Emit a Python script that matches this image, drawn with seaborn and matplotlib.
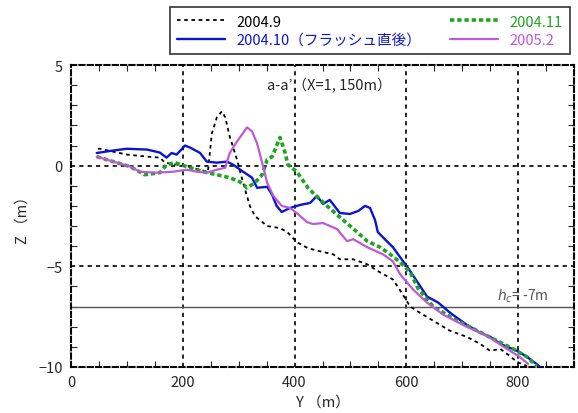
import matplotlib
matplotlib.use("Agg")
import matplotlib.pyplot as plt
import matplotlib.lines as mlines
from matplotlib.ticker import MultipleLocator
import seaborn as sns

# survey profiles along line a-a' (Y in m, Z in m)
y_0409 = [48, 52, 75, 100, 136, 159, 168, 200, 230, 245, 252, 261, 270, 276, 284,
          297, 308, 320, 329, 351, 374, 387, 404, 424, 445, 469, 481, 505, 530, 553,
          576, 589, 607, 624, 648, 678, 708, 732, 750, 768, 785, 798, 816]
z_0409 = [0.84, 0.84, 0.7, 0.55, 0.45, 0.4, 0.15, 0.0, -0.2, -0.3, 1.6, 2.4, 2.7, 2.4, 1.45,
          0.3, -0.85, -2.0, -2.5, -3.0, -3.1, -3.3, -3.8, -4.1, -4.25, -4.4, -4.65, -4.65, -4.9, -5.3,
          -5.65, -6.2, -7.0, -7.3, -7.7, -8.2, -8.5, -8.85, -9.2, -9.1, -9.45, -9.75, -9.95]

y_0410 = [46, 75, 100, 136, 159, 171, 180, 189, 204, 213, 231, 243, 261, 279, 290,
          308, 324, 333, 351, 360, 368, 377, 392, 410, 428, 440, 451, 463, 481, 499,
          514, 526, 535, 544, 549, 565, 576, 589, 601, 612, 637, 657, 678, 708, 732,
          750, 768, 798, 816, 833, 839]
z_0410 = [0.63, 0.75, 0.84, 0.8, 0.65, 0.4, 0.63, 0.55, 1.0, 0.9, 0.63, 0.2, 0.15, 0.2, 0.05,
          -0.3, -0.6, -1.1, -1.05, -1.45, -2.0, -2.3, -2.1, -1.95, -1.85, -1.5, -1.9, -1.7, -2.35, -2.4,
          -2.25, -2.0, -2.1, -2.7, -3.3, -3.75, -4.05, -4.55, -5.0, -5.45, -6.5, -6.8, -7.3, -7.9, -8.3,
          -8.5, -8.85, -9.2, -9.5, -9.85, -10.0]

y_0411 = [46, 106, 132, 159, 171, 186, 207, 236, 261, 284, 302, 315, 329, 342, 351,
          360, 374, 383, 388, 404, 424, 433, 458, 487, 512, 530, 553, 571, 589, 607,
          621, 648, 684, 720, 755, 791, 816, 833]
z_0411 = [0.45, -0.05, -0.45, -0.35, 0.05, 0.15, -0.05, -0.3, -0.45, -0.6, -0.8, -1.1, -0.85, -0.45, 0.3,
          0.45, 1.4, 0.65, 0.05, -0.3, -1.1, -1.35, -2.0, -2.7, -3.3, -3.75, -4.05, -4.4, -4.8, -5.3,
          -6.1, -7.0, -7.6, -8.1, -8.6, -9.1, -9.5, -9.95]

y_0502 = [46, 106, 123, 154, 183, 207, 225, 243, 261, 276, 284, 297, 315, 324, 333,
          342, 351, 362, 377, 392, 406, 422, 433, 451, 476, 494, 505, 530, 558, 576,
          589, 612, 637, 666, 708, 744, 780, 803, 818]
z_0502 = [0.45, -0.05, -0.3, -0.35, -0.3, -0.2, -0.3, -0.35, -0.2, -0.1, 0.63, 1.2, 1.9, 1.7, 1.1,
          0.15, -0.85, -1.5, -2.0, -2.1, -2.4, -2.8, -2.9, -2.85, -3.15, -3.75, -3.65, -4.05, -4.4, -4.75,
          -5.4, -6.15, -6.8, -7.4, -8.0, -8.45, -9.1, -9.5, -9.85]

labels = ["2004.9", "2004.10（フラッシュ直後）", "2004.11", "2005.2"]
colors = ["black", "#0a14d2", "#1ea51e", "#bf5ad6"]
hc = -7

sns.set_style("ticks")
plt.rcParams["font.family"] = ["Noto Sans CJK JP", "DejaVu Sans"]

fig = plt.figure(figsize=(5.78, 4.14), dpi=100)
ax = fig.add_axes([71 / 578, 46 / 414, 503 / 578, 302 / 414])

styles = [dict(lw=1.3, ls=(0, (2, 2))), dict(lw=1.7, ls="-"),
          dict(lw=2.6, ls=(0, (1.2, 0.8))), dict(lw=1.6, ls="-")]
series = [(y_0409, z_0409), (y_0410, z_0410), (y_0411, z_0411), (y_0502, z_0502)]
handles = []
for (xs, zs), lab, col, st in zip(series, labels, colors, styles):
    sns.lineplot(x=xs, y=zs, ax=ax, color=col, linewidth=st["lw"], linestyle=st["ls"],
                 estimator=None, sort=False, zorder=3)
    handles.append(mlines.Line2D([], [], color=col, linewidth=st["lw"], linestyle=st["ls"]))

# closure depth line
ax.axhline(hc, color="#555555", lw=1.0, zorder=2)
ax.text(762, -6.45, r"$h_c$= -7m", color="#555555", fontsize=10, va="center")

ax.set_xlim(0, 900)
ax.set_ylim(-10, 5)
ax.xaxis.set_major_locator(MultipleLocator(200))
ax.xaxis.set_minor_locator(MultipleLocator(50))
ax.yaxis.set_major_locator(MultipleLocator(5))
ax.yaxis.set_minor_locator(MultipleLocator(1))
ax.tick_params(which="both", direction="in", top=True, right=True, labelsize=10.5)
ax.tick_params(which="major", length=0, pad=6)
ax.tick_params(which="minor", length=4, width=0.8)
ax.grid(True, which="major", color="black", linestyle=(0, (2.5, 2.5)), linewidth=1.2)
for sp in ax.spines.values():
    sp.set_linestyle((0, (2.5, 1.5)))
    sp.set_linewidth(1.5)
    sp.set_color("black")

ax.set_xlabel("Y （m）", fontsize=10.5, labelpad=4)
ax.set_ylabel("Z （m）", fontsize=10.5, labelpad=6)
ax.text(350, 4.0, "a-a’（X=1, 150m）", fontsize=10.5, va="center")

leg = fig.legend(handles, labels, loc="upper right", bbox_to_anchor=(577 / 578, 413 / 414),
                 ncol=2, frameon=True, fancybox=False, edgecolor="black", fontsize=10.5,
                 labelcolor="linecolor", handlelength=3.3, columnspacing=1.9,
                 borderpad=0.5, labelspacing=0.3)
leg.get_frame().set_linewidth(1.2)

fig.savefig("out.png", dpi=100)
